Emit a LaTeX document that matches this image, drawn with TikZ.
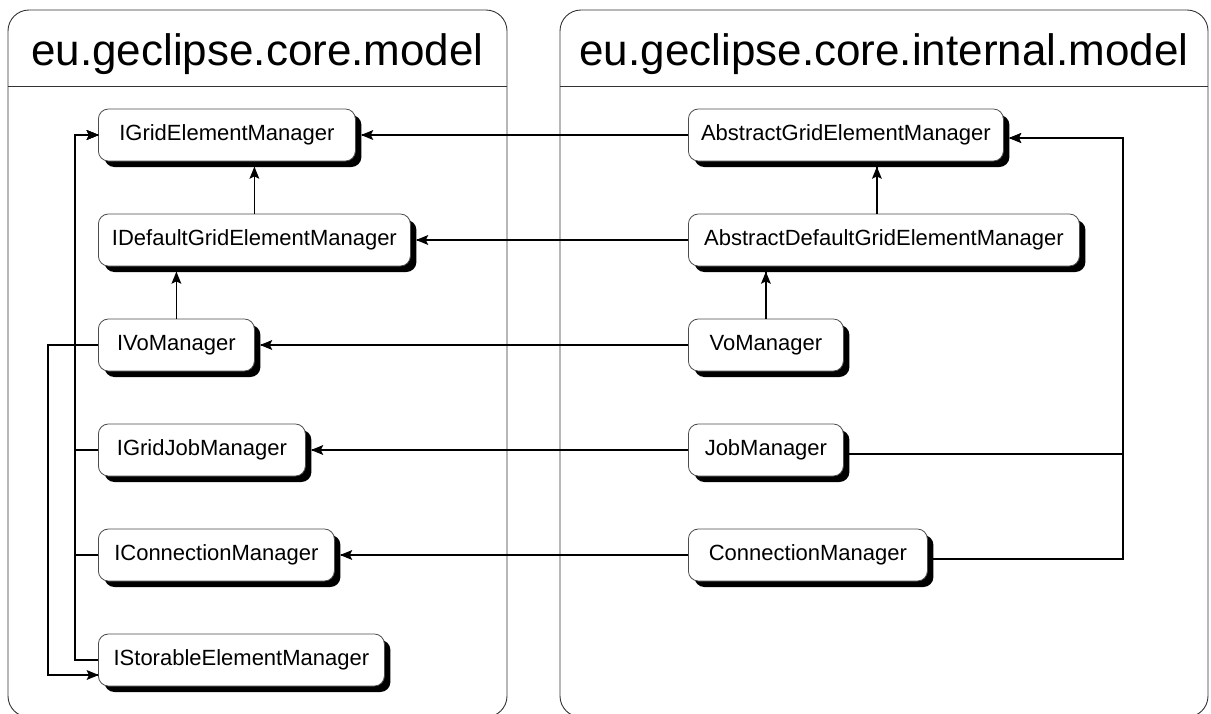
\documentclass[tikz,border=0pt]{standalone}
\usepackage{fontspec}
\setmainfont{Liberation Sans}
\usetikzlibrary{shadows,calc,decorations.markings}
\begin{document}
\begin{tikzpicture}[x=1pt,y=1pt,
  pkg/.style={draw=black!80, line width=0.9pt, rounded corners=21pt},
  pkgline/.style={draw=black!80, line width=0.9pt},
  hdr/.style={anchor=base, inner sep=0pt, font=\fontsize{44}{50}\selectfont},
  cls/.style={draw=black!70, line width=0.8pt, fill=white, rounded corners=10pt,
     minimum height=52pt, inner sep=0pt, anchor=west, font=\fontsize{22}{26}\selectfont,
     drop shadow={shadow xshift=6pt, shadow yshift=-6pt, fill=black, opacity=1}},
  conn/.style={line width=1.4pt, draw=black},
  arr/.style={conn, postaction={decorate, decoration={markings,
      mark=at position 1 with {\fill[black] (0.8pt,0pt) -- (-11.5pt,5pt) -- (-9pt,0pt) -- (-11.5pt,-5pt) -- cycle;}}}},
]
\useasboundingbox (0,0) rectangle (1211,-713);
% packages
\draw[pkg] (8,-10) rectangle (507,-717);
\draw[pkg] (560,-10) rectangle (1208,-717);
\draw[pkgline] (8,-86) -- (507,-86);
\draw[pkgline] (560,-86) -- (1208,-86);
\node[hdr] (hl) at (257.5,-65) {eu.geclipse.core.model};
\node[hdr] (hr) at (884,-65) {eu.geclipse.core.internal.model};

% left nodes
\node[cls, minimum width=257pt] (ige)  at (98,-135) {IGridElementManager};
\node[cls, minimum width=312pt] (idge) at (98,-240) {IDefaultGridElementManager};
\node[cls, minimum width=156pt] (ivo)  at (98,-345) {IVoManager};
\node[cls, minimum width=207pt] (igj)  at (98,-450) {IGridJobManager};
\node[cls, minimum width=236pt] (icm)  at (98,-555) {IConnectionManager};
\node[cls, minimum width=286pt] (ise)  at (98,-660) {IStorableElementManager};

% right nodes
\node[cls, minimum width=315pt] (age)  at (688,-135) {AbstractGridElementManager};
\node[cls, minimum width=391pt] (adge) at (688,-240) {AbstractDefaultGridElementManager};
\node[cls, minimum width=155pt] (vo)   at (688,-345) {VoManager};
\node[cls, minimum width=155pt] (jm)   at (688,-450) {JobManager};
\node[cls, minimum width=239pt] (cm)   at (688,-555) {ConnectionManager};

% horizontal implementation arrows (tips end at the shadow edge)
\draw[arr] (age.west)  -- ([xshift=6pt]ige.east);
\draw[arr] (adge.west) -- ([xshift=6pt]idge.east);
\draw[arr] (vo.west)   -- ([xshift=6pt]ivo.east);
\draw[arr] (jm.west)   -- ([xshift=6pt]igj.east);
\draw[arr] (cm.west)   -- ([xshift=6pt]icm.east);

% vertical inheritance arrows
\draw[arr] (idge.north) -- ($(idge.north |- ige.south)+(0,-6)$);
\draw[arr] (ivo.north) -- ($(ivo.north |- idge.south)+(0,-6)$);
\coordinate (adgen) at ([xshift=-7pt]adge.north);
\draw[arr] (adgen) -- ($(adgen |- age.south)+(0,-6)$);
\draw[arr] (vo.north) -- ($(vo.north |- adge.south)+(0,-6)$);

% left buses
\coordinate (lbus) at (75,0);
\coordinate (obus) at (48,0);
\draw[arr] (igj.west) -- (lbus |- igj.west) |- (ige.west);
\draw[arr] (icm.west) -- (lbus |- icm.west) |- (ige.west);
\draw[arr] (ise.west) -- (lbus |- ise.west) |- (ige.west);
\coordinate (isein) at ([yshift=-15pt]ise.west);
\draw[arr] (ivo.west) -- (obus |- ivo.west) |- (isein);

% right bus
\coordinate (rbus) at (1123,0);
\coordinate (jmr) at ([yshift=-4pt]jm.east);
\coordinate (cmr) at ([yshift=-4pt]cm.east);
\coordinate (ager) at ([yshift=-3pt,xshift=6pt]age.east);
\draw[arr] (jmr) -- (rbus |- jmr) |- (ager);
\draw[arr] (cmr) -- (rbus |- cmr) |- (ager);
\end{tikzpicture}
\end{document}
